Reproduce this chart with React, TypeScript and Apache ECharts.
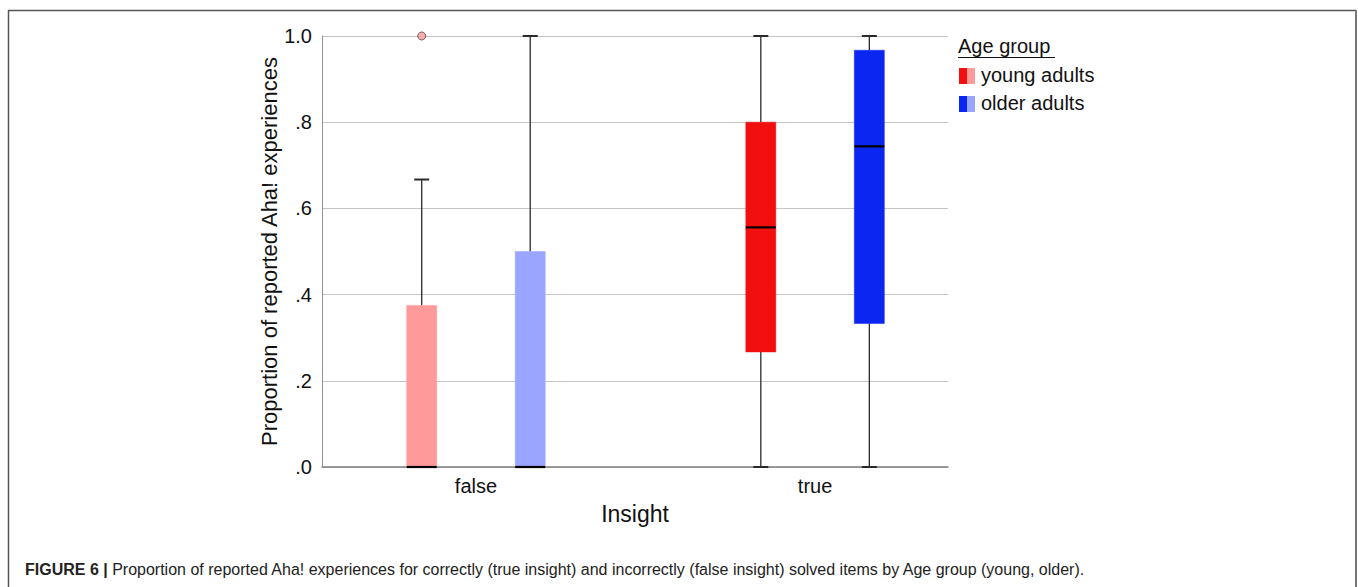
import React, { useEffect, useRef } from "react";
import * as echarts from "echarts";

const categories = ["false", "true"];
const yTicks = [0, 0.2, 0.4, 0.6, 0.8, 1.0];
// [low, q1, median, q3, high] per category
const youngStats = [
  [0, 0, 0, 0.375, 0.667],
  [0, 0.267, 0.556, 0.8, 1.0],
];
const olderStats = [
  [0, 0, 0, 0.5, 1.0],
  [0, 0.333, 0.744, 0.967, 1.0],
];
// [category index, value]
const youngOutliers = [[0, 1.0]];
const seriesNames = ["young adults", "older adults"];
const youngColors = ["#FF9A9A", "#F20F0F"];
const olderColors = ["#9AA5FF", "#0B26F0"];

const FONT = "'Liberation Sans', Arial, Helvetica, sans-serif";
const GROUP_OFFSET = 0.16;
const BOX_W = 30;
const CAP_W = 15;

function makeBoxSeries(name: string, stats: number[][], colors: string[], offset: number) {
  return {
    type: "custom",
    name,
    encode: { x: 0, y: [1, 2, 3, 4, 5] },
    data: stats.map((s, i) => [i, ...s]),
    renderItem: (params: any, api: any) => {
      const idx = api.value(0);
      const xv = idx + offset;
      const low = api.coord([xv, api.value(1)]);
      const q1 = api.coord([xv, api.value(2)]);
      const med = api.coord([xv, api.value(3)]);
      const q3 = api.coord([xv, api.value(4)]);
      const high = api.coord([xv, api.value(5)]);
      const cx = low[0];
      const color = colors[params.dataIndex];
      const lineStyle = { stroke: "#2a2a2a", lineWidth: 1.3 };
      return {
        type: "group",
        children: [
          { type: "line", shape: { x1: cx, y1: high[1], x2: cx, y2: q3[1] }, style: lineStyle },
          { type: "line", shape: { x1: cx, y1: q1[1], x2: cx, y2: low[1] }, style: lineStyle },
          { type: "line", shape: { x1: cx - CAP_W / 2, y1: high[1], x2: cx + CAP_W / 2, y2: high[1] }, style: { stroke: "#2a2a2a", lineWidth: 2 } },
          { type: "line", shape: { x1: cx - CAP_W / 2, y1: low[1], x2: cx + CAP_W / 2, y2: low[1] }, style: { stroke: "#2a2a2a", lineWidth: 2 } },
          {
            type: "rect",
            shape: { x: cx - BOX_W / 2, y: q3[1], width: BOX_W, height: Math.max(q1[1] - q3[1], 0) },
            style: { fill: color, stroke: color, lineWidth: 0.5 },
          },
          { type: "line", shape: { x1: cx - BOX_W / 2, y1: med[1], x2: cx + BOX_W / 2, y2: med[1] }, style: { stroke: "#000", lineWidth: 2.2 } },
        ],
      };
    },
    z: 3,
  };
}

export default function App() {
  const ref = useRef<HTMLDivElement>(null);
  useEffect(() => {
    document.body.style.margin = "0";
    const chart = echarts.init(ref.current!, null, { renderer: "svg" });
    chart.setOption({
      animation: false,
      backgroundColor: "#fff",
      grid: { left: 322, right: 410, top: 36, bottom: 120 },
      xAxis: {
        type: "value",
        min: -0.454,
        max: 1.392,
        name: "Insight",
        nameLocation: "middle",
        nameGap: 35,
        nameTextStyle: { fontFamily: FONT, fontSize: 23, color: "#111" },
        axisLine: { show: true, onZero: false, lineStyle: { color: "#808080", width: 1.5 } },
        axisTick: { show: false },
        splitLine: { show: false },
        axisLabel: {
          customValues: [0, 1],
          formatter: (v: number) => categories[Math.round(v)],
          fontFamily: FONT,
          fontSize: 20,
          color: "#111",
          margin: 9,
        },
      },
      yAxis: {
        type: "value",
        min: 0,
        max: 1,
        interval: 0.2,
        name: "Proportion of reported Aha! experiences",
        nameLocation: "middle",
        nameGap: 40,
        nameTextStyle: { fontFamily: FONT, fontSize: 22, color: "#111" },
        axisLine: { show: true, onZero: false, lineStyle: { color: "#909090", width: 1 } },
        axisTick: { show: false },
        splitLine: { show: true, lineStyle: { color: "#C4C4C4", width: 1 } },
        axisLabel: {
          customValues: yTicks,
          formatter: (v: number) => (v >= 1 ? "1.0" : v.toFixed(1).replace(/^0/, "")),
          fontFamily: FONT,
          fontSize: 20,
          color: "#111",
          margin: 10,
        },
      },
      series: [
        makeBoxSeries(seriesNames[0], youngStats, youngColors, -GROUP_OFFSET),
        makeBoxSeries(seriesNames[1], olderStats, olderColors, GROUP_OFFSET),
        {
          type: "scatter",
          name: "young outliers",
          data: youngOutliers.map((d) => [d[0] - GROUP_OFFSET, d[1]]),
          symbol: "circle",
          symbolSize: 8,
          itemStyle: { color: youngColors[0], borderColor: "#444", borderWidth: 1 },
          z: 5,
        },
      ],
      graphic: [
        // outer frame
        { type: "line", shape: { x1: 8, y1: 10.5, x2: 1356, y2: 10.5 }, style: { stroke: "#555", lineWidth: 1.5 } },
        { type: "line", shape: { x1: 8.5, y1: 10, x2: 8.5, y2: 590 }, style: { stroke: "#555", lineWidth: 1.5 } },
        { type: "line", shape: { x1: 1356, y1: 10, x2: 1356, y2: 590 }, style: { stroke: "#777", lineWidth: 2 } },
        // legend
        { type: "text", left: 958, top: 36, style: { text: "Age group", fontFamily: FONT, fontSize: 20, fill: "#111" } },
        { type: "line", shape: { x1: 958, y1: 57.5, x2: 1055, y2: 57.5 }, style: { stroke: "#111", lineWidth: 1.2 } },
        { type: "rect", shape: { x: 959, y: 68, width: 8, height: 16 }, style: { fill: youngColors[1] } },
        { type: "rect", shape: { x: 967, y: 68, width: 8, height: 16 }, style: { fill: youngColors[0] } },
        { type: "text", left: 981, top: 65, style: { text: seriesNames[0], fontFamily: FONT, fontSize: 20, fill: "#111" } },
        { type: "rect", shape: { x: 959, y: 96, width: 8, height: 16 }, style: { fill: olderColors[1] } },
        { type: "rect", shape: { x: 967, y: 96, width: 8, height: 16 }, style: { fill: olderColors[0] } },
        { type: "text", left: 981, top: 93, style: { text: seriesNames[1], fontFamily: FONT, fontSize: 20, fill: "#111" } },
        // caption
        {
          type: "text",
          left: 25,
          top: 561,
          style: {
            text: "{b|FIGURE 6 |} Proportion of reported Aha! experiences for correctly (true insight) and incorrectly (false insight) solved items by Age group (young, older).",
            fontFamily: FONT,
            fontSize: 16,
            fill: "#222",
            rich: { b: { fontWeight: "bold", fontFamily: FONT, fontSize: 16, fill: "#222" } },
          },
        },
      ],
    });
    return () => chart.dispose();
  }, []);
  return <div ref={ref} style={{ position: "absolute", left: 0, top: 0, width: 1358, height: 587 }} />;
}
